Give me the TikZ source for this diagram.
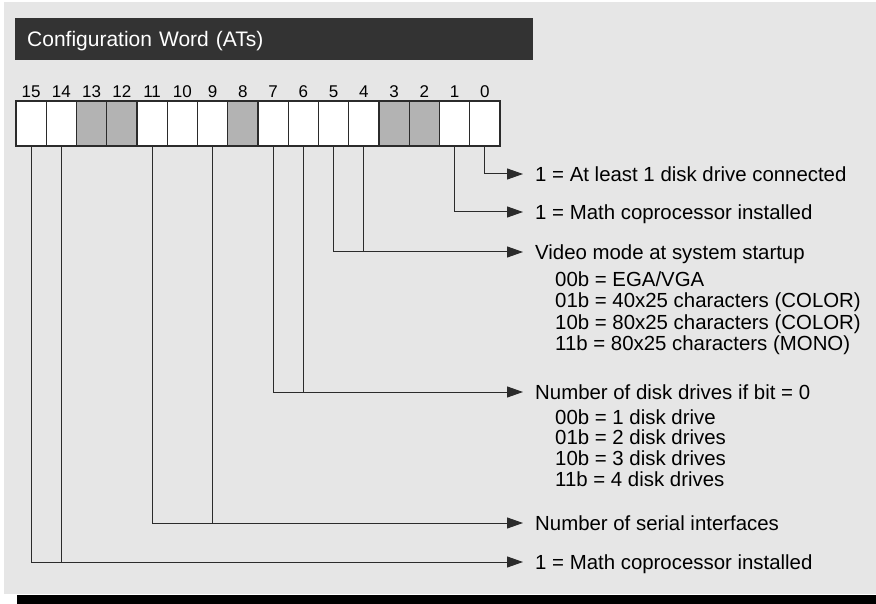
\documentclass[tikz,border=0pt]{standalone}
\usepackage{fontspec}
\setmainfont{Liberation Sans}
\usetikzlibrary{positioning, arrows.meta}
\definecolor{panelGray}{HTML}{E6E6E6}
\definecolor{barDark}{HTML}{333333}
\definecolor{bitGray}{HTML}{B3B3B3}
\definecolor{lineDark}{HTML}{2B2B2B}

\tikzset{
  bitbox/.style={draw=lineDark, line width=1.2pt, minimum width=30.25pt,
    minimum height=45pt, inner sep=0pt, outer sep=0pt},
  bitlabel/.style={font=\fontsize{17}{19}\selectfont, inner sep=0pt},
  desc/.style={anchor=west, inner sep=0pt, text height=14.6pt, text depth=0pt},
  subline/.style={anchor=base west, inner sep=0pt},
  conn/.style={draw=lineDark, line width=1pt},
  connarrow/.style={conn, -{Triangle[length=16pt, width=11pt]}, shorten >=12pt}
}

\begin{document}
\begin{tikzpicture}[x=1pt, y=-1pt, every node/.style={font=\fontsize{20.4}{21}\selectfont}]
  \useasboundingbox (0,0) rectangle (876,604);
  % Panel and bottom bar
  \fill[panelGray] (4,2) rectangle (876,594);
  \fill[black] (17,595) rectangle (876,604);
  % Title bar
  \node[fill=barDark, text=white, anchor=north west, minimum height=42pt,
    text width=494pt, inner xsep=12pt, align=left, text height=15pt,
    text depth=0pt, font=\fontsize{21}{23}\selectfont] (title) at (15,18) {Configuration Word (ATs)};
  % Bit cells, bit 15 on the left
  \foreach \i/\c in {0/white, 1/white, 2/bitGray, 3/bitGray, 4/white, 5/white,
      6/white, 7/white, 8/bitGray, 9/white, 10/white, 11/white, 12/bitGray,
      13/bitGray, 14/white, 15/white} {
    \node[bitbox, fill=\c] (b\i) at ({500-30.25*(\i+0.5)}, 123.5) {};
    \node[bitlabel, above=3pt of b\i] (l\i) {\i};
  }
  % Descriptions
  \node[desc] (d0) at (535,174) {1 = At least 1 disk drive connected};
  \node[desc] (d1) at (535,212) {1 = Math coprocessor installed};
  \node[desc] (dvid) at (535,252) {Video mode at system startup};
  \foreach \t [count=\k] in {00b = EGA/VGA, 01b = 40x25 characters (COLOR),
      10b = 80x25 characters (COLOR), 11b = 80x25 characters (MONO)}
    \node[subline] (vid\k) at (555, {266+21*\k}) {\t};
  \node[desc] (ddrv) at (535,392) {Number of disk drives if bit = 0};
  \foreach \t [count=\k] in {00b = 1 disk drive, 01b = 2 disk drives,
      10b = 3 disk drives, 11b = 4 disk drives}
    \node[subline] (drv\k) at (555, {403.5+20.7*\k}) {\t};
  \node[desc] (dser) at (535,523) {Number of serial interfaces};
  \node[desc] (dfpu) at (535,562) {1 = Math coprocessor installed};
  % Single-bit connectors
  \draw[connarrow] (b0.south) |- (d0.west);
  \draw[connarrow] (b1.south) |- (d1.west);
  % Two-bit connectors
  \foreach \a/\b/\d in {5/4/dvid, 7/6/ddrv, 11/9/dser, 15/14/dfpu} {
    \draw[connarrow] (b\a.south) |- (\d.west);
    \draw[conn] (b\b.south) -- (b\b.south |- \d.west);
  }
\end{tikzpicture}
\end{document}
